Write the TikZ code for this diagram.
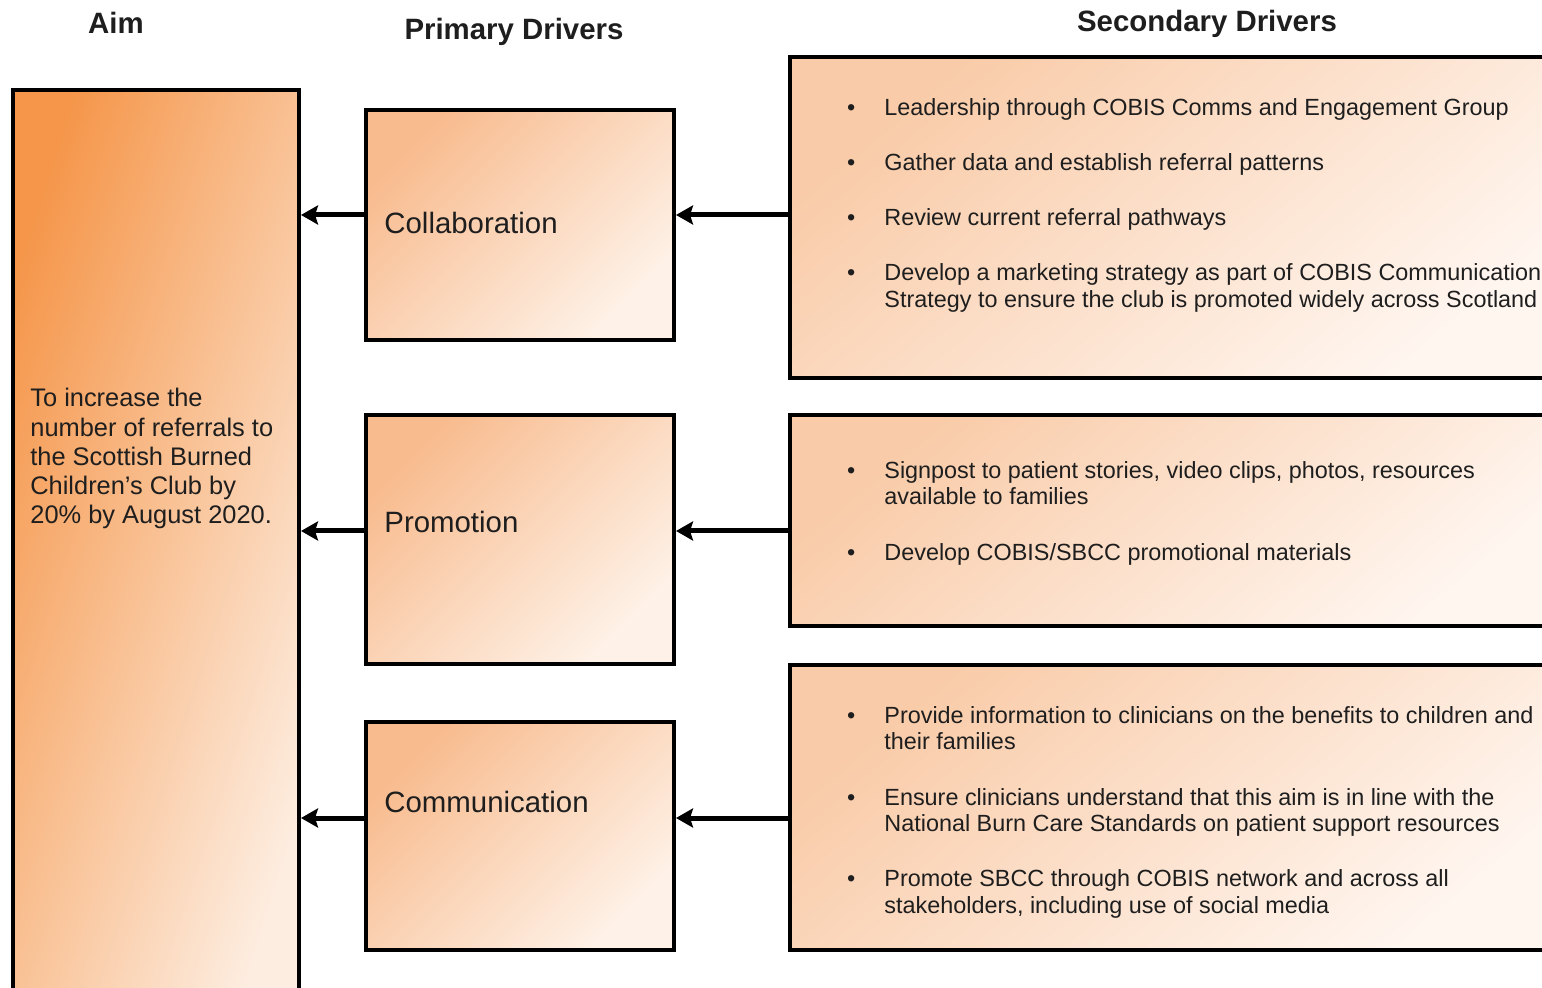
\documentclass[tikz,border=0pt]{standalone}
\usepackage{fontspec}
\setmainfont{Liberation Sans}
\usetikzlibrary{arrows.meta}

\definecolor{aimdark}{HTML}{F5964A}
\definecolor{aimlight}{HTML}{FDEDE0}
\definecolor{pddark}{HTML}{F8BB8E}
\definecolor{pdlight}{HTML}{FEF2E8}
\definecolor{sddark}{HTML}{F9CBA8}
\definecolor{sdlight}{HTML}{FFF6F0}
\definecolor{inktext}{HTML}{1E1E1E}

\newcommand{\sdbullet}{\llap{\textbullet\hspace{14.5pt}}}

\begin{document}
\begin{tikzpicture}[x=0.5pt,y=-0.5pt,
    box/.style={draw=black, line width=2pt, inner sep=0pt, anchor=north west},
    aimbox/.style={box, top color=aimdark, bottom color=aimlight, shading angle=72},
    pdbox/.style={box, top color=pddark, bottom color=pdlight, shading angle=45},
    sdbox/.style={box, top color=sddark, bottom color=sdlight, shading angle=40},
    heading/.style={font=\fontsize{14.7}{17}\selectfont\bfseries, text=inktext, inner sep=0pt},
    pdlabel/.style={font=\fontsize{14.7}{17}\selectfont, text=inktext, inner sep=0pt, anchor=base west},
    aimtext/.style={font=\fontsize{12.7}{14.6}\selectfont, text=inktext, inner sep=0pt, anchor=north west, align=left},
    sdtext/.style={font=\fontsize{11.7}{13.3}\selectfont, text=inktext, inner sep=0pt, anchor=north west, align=left},
    arr/.style={line width=2.5pt, -{Stealth[length=8.5pt,width=9.5pt,inset=1.5pt]}}]
  % Page frame
  \useasboundingbox (0,0) rectangle (1542,988);
  \clip (0,0) rectangle (1542,988);
  % Column headings
  \node[heading] (haim) at (116,23) {Aim};
  \node[heading] (hpd) at (514,32) {Primary Drivers};
  \node[heading] (hsd) at (1207,24) {Secondary Drivers};
  % Aim
  \node[aimbox, minimum width=143pt, minimum height=460pt] (aim) at (11,88) {};
  \node[aimtext] (aimtxt) at (30,388) {To increase the\\number of referrals to\\the Scottish Burned\\Children's Club by\\20\% by August 2020.};
  % Primary drivers
  \node[pdbox, minimum width=154pt, minimum height=115pt] (p1) at (364,108) {};
  \node[pdbox, minimum width=154pt, minimum height=124.5pt] (p2) at (364,413) {};
  \node[pdbox, minimum width=154pt, minimum height=114pt] (p3) at (364,720) {};
  \node[pdlabel] (p1txt) at (384,234) {Collaboration};
  \node[pdlabel] (p2txt) at (384,533) {Promotion};
  \node[pdlabel] (p3txt) at (384,812) {Communication};
  % Secondary drivers
  \node[sdbox, minimum width=385pt, minimum height=160.5pt] (s1) at (788,55) {};
  \node[sdbox, minimum width=385pt, minimum height=105.5pt] (s2) at (788,413) {};
  \node[sdbox, minimum width=385pt, minimum height=142.5pt] (s3) at (788,663) {};
  \node[sdtext] (s1txt) at (884,98) {\sdbullet Leadership through COBIS Comms and Engagement Group\\[14.3pt]
    \sdbullet Gather data and establish referral patterns\\[14.3pt]
    \sdbullet Review current referral pathways\\[14.3pt]
    \sdbullet Develop a marketing strategy as part of COBIS Communication\\
    Strategy to ensure the club is promoted widely across Scotland};
  \node[sdtext] (s2txt) at (884,461) {\sdbullet Signpost to patient stories, video clips, photos, resources\\
    available to families\\[14.3pt]
    \sdbullet Develop COBIS/SBCC promotional materials};
  \node[sdtext] (s3txt) at (884,706) {\sdbullet Provide information to clinicians on the benefits to children and\\
    their families\\[14.3pt]
    \sdbullet Ensure clinicians understand that this aim is in line with the\\
    National Burn Care Standards on patient support resources\\[14.3pt]
    \sdbullet Promote SBCC through COBIS network and across all\\
    stakeholders, including use of social media};
  % Arrows
  \coordinate (r1) at (0,215);
  \coordinate (r2) at (0,531);
  \coordinate (r3) at (0,818);
  \draw[arr] (s1.west |- r1) -- (p1.east |- r1);
  \draw[arr] (p1.west |- r1) -- (aim.east |- r1);
  \draw[arr] (s2.west |- r2) -- (p2.east |- r2);
  \draw[arr] (p2.west |- r2) -- (aim.east |- r2);
  \draw[arr] (s3.west |- r3) -- (p3.east |- r3);
  \draw[arr] (p3.west |- r3) -- (aim.east |- r3);
\end{tikzpicture}
\end{document}
